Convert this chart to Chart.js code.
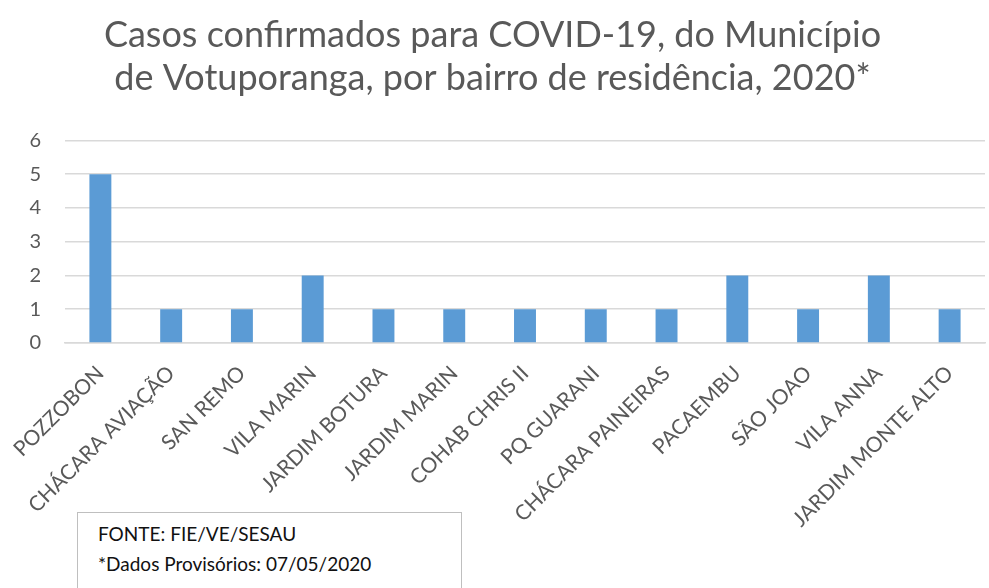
<!DOCTYPE html>
<html>
<head>
<meta charset="utf-8">
<script src="https://cdn.jsdelivr.net/npm/chart.js@4"></script>
<style>
  body { margin: 0; background: #fff; }
  #wrap { position: relative; width: 989px; height: 588px; overflow: hidden; }
  #note {
    position: absolute; left: 77px; top: 512px; width: 385px; height: 100px;
    border: 1px solid #bfbfbf; background: #fff; box-sizing: border-box;
    font-family: Lato, "Open Sans", sans-serif; font-size: 19px; color: #111;
    padding: 6px 0 0 20px; line-height: 30px;
  }
</style>
</head>
<body>
<div id="wrap">
  <canvas id="chart" width="989" height="588"></canvas>
  <div id="note">FONTE: FIE/VE/SESAU<br>*Dados Provisórios: 07/05/2020</div>
</div>
<script>
const bairros = ['POZZOBON', 'CHÁCARA AVIAÇÃO', 'SAN REMO', 'VILA MARIN', 'JARDIM BOTURA',
  'JARDIM MARIN', 'COHAB CHRIS II', 'PQ GUARANI', 'CHÁCARA PAINEIRAS', 'PACAEMBU',
  'SÃO JOAO', 'VILA ANNA', 'JARDIM MONTE ALTO'];
const casos = [5, 1, 1, 2, 1, 1, 1, 1, 1, 2, 1, 2, 1];
const titulo = ['Casos confirmados para COVID-19, do Município',
  'de Votuporanga, por bairro de residência, 2020*'];

const grey = '#595959';
const fontFamily = 'Lato, "Open Sans", sans-serif';

new Chart(document.getElementById('chart'), {
  type: 'bar',
  data: {
    labels: bairros,
    datasets: [{
      data: casos,
      backgroundColor: '#5b9bd5',
      categoryPercentage: 1,
      barPercentage: 0.31
    }]
  },
  options: {
    responsive: false,
    animation: false,
    layout: { padding: { top: 14, right: 4, left: 0, bottom: 0 } },
    plugins: {
      legend: { display: false },
      tooltip: { enabled: false },
      title: {
        display: true,
        text: titulo,
        color: grey,
        font: { family: fontFamily, size: 36, weight: 'normal', lineHeight: 1.2 },
        padding: { top: 0, bottom: 40 }
      }
    },
    scales: {
      y: {
        min: 0,
        max: 6,
        ticks: { stepSize: 1, color: grey, font: { family: fontFamily, size: 20 }, padding: 24 },
        grid: { color: '#d9d9d9', lineWidth: 1.5, drawTicks: false },
        border: { display: false },
        afterFit: s => { s.width = 65; }
      },
      x: {
        ticks: {
          color: grey, font: { family: fontFamily, size: 21 },
          maxRotation: 45, minRotation: 45, autoSkip: false, padding: 10
        },
        grid: { display: false },
        border: { color: '#d9d9d9', width: 1.5 },
        afterFit: s => { s.height = 245; }
      }
    }
  }
});
</script>
</body>
</html>
